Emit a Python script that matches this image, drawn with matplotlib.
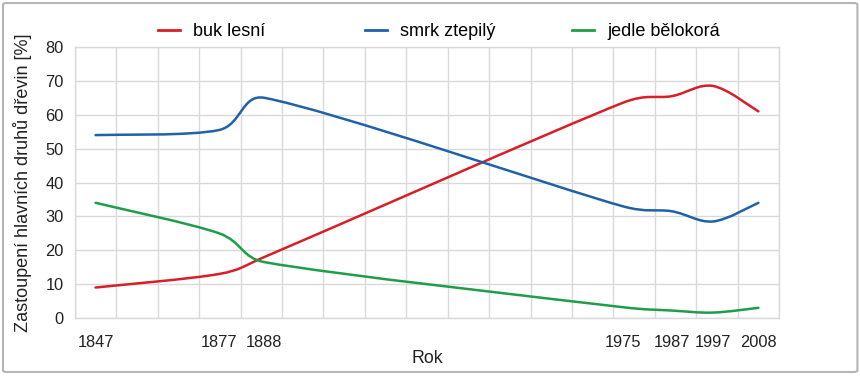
import numpy as np
import matplotlib
matplotlib.use("Agg")
import matplotlib.pyplot as plt
from matplotlib.path import Path
from matplotlib.patches import PathPatch, FancyBboxPatch
from matplotlib.lines import Line2D

plt.rcParams['font.family'] = ['Liberation Sans', 'DejaVu Sans']

# data
roky = [1847, 1877, 1888, 1975, 1987, 1997, 2008]
buk = [9, 13, 18, 63.5, 65.5, 68.5, 61]
smrk = [54, 55.5, 65, 33, 31.5, 28.5, 34]
jedle = [34, 25, 16.5, 3.2, 2.2, 1.6, 3]
popisky = ["buk lesní", "smrk ztepilý", "jedle bělokorá"]
barvy = ["#d81e26", "#1f62a8", "#1f9d4a"]


def hladka_cesta(x, y):
    # excel-like smoothed line (bezier), handles clamped on short segments
    pts = np.column_stack([x, y]).astype(float)
    n = len(pts)
    verts = [pts[0]]
    codes = [Path.MOVETO]
    for i in range(n - 1):
        p0 = pts[max(i - 1, 0)]
        p1 = pts[i]
        p2 = pts[i + 1]
        p3 = pts[min(i + 2, n - 1)]
        lim = (p2[0] - p1[0]) / 2
        t1 = (p2 - p0) / 6
        t2 = (p3 - p1) / 6
        if t1[0] > lim:
            t1 = t1 * lim / t1[0]
        if t2[0] > lim:
            t2 = t2 * lim / t2[0]
        verts += [p1 + t1, p2 - t2, p2]
        codes += [Path.CURVE4] * 3
    return Path(verts, codes)


fig = plt.figure(figsize=(8.6, 3.77), dpi=100)
ax = fig.add_axes([0.0872, 0.1565, 0.8186, 0.7188])

for serie, barva in zip([buk, smrk, jedle], barvy):
    ax.add_patch(PathPatch(hladka_cesta(roky, serie), fill=False,
                           edgecolor=barva, lw=1.8, capstyle='round', zorder=3))

ax.set_xlim(1842, 2013)
ax.set_ylim(0, 80)
ax.set_xticks(roky)
ax.set_xticks(np.linspace(1842, 2013, 18), minor=True)
ax.set_yticks(range(0, 81, 10))
ax.grid(False)
ax.grid(True, which='minor', axis='x', color='#d9d9d9', lw=1)
ax.grid(True, which='major', axis='y', color='#d9d9d9', lw=1)
ax.tick_params(which='both', length=0)
ax.tick_params(axis='y', labelsize=11.8, pad=8, colors='#222222')
ax.tick_params(axis='x', labelsize=11.8, pad=12, colors='#222222')
for s in ax.spines.values():
    s.set_color('#d9d9d9')
    s.set_linewidth(1)

ax.set_xlabel("Rok", fontsize=12.8, color='#222222', labelpad=0)
ax.set_ylabel("Zastoupení hlavních druhů dřevin [%]", fontsize=13, color='#222222', labelpad=10)

# legend entries spaced evenly like in the original
for i, (lab, barva) in enumerate(zip(popisky, barvy)):
    h = Line2D([], [], color=barva, lw=2)
    fig.legend(handles=[h], labels=[lab], loc='center left',
               bbox_to_anchor=((158 + i * 207) / 860, 1 - 32 / 377),
               frameon=False, fontsize=13, handlelength=1.2, handletextpad=0.75,
               borderpad=0, borderaxespad=0)

fig.patches.append(FancyBboxPatch((0.0035, 0.0133), 0.9935, 0.9787,
                                  boxstyle='round,pad=0,rounding_size=0.004',
                                  transform=fig.transFigure, fill=False,
                                  ec='#b5b5b5', lw=1.5))

fig.savefig("out.png", dpi=100)
